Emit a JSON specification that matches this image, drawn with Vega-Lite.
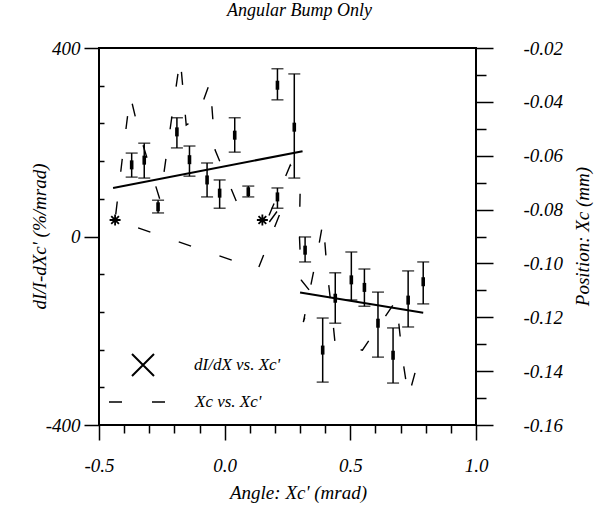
{
  "$schema": "https://vega.github.io/schema/vega-lite/v6.json",
  "width": 377,
  "height": 377,
  "autosize": "none",
  "padding": {"left": 99, "top": 48, "right": 125, "bottom": 91},
  "title": {"text": "Angular Bump Only", "font": "Liberation Serif", "fontStyle": "italic", "fontWeight": "normal", "fontSize": 18, "color": "black", "offset": 19, "dx": 12},
  "config": {
    "view": {"stroke": "black", "strokeWidth": 2},
    "axis": {
      "labelFont": "Liberation Serif", "labelFontStyle": "italic", "labelFontSize": 19, "labelColor": "black",
      "titleFont": "Liberation Serif", "titleFontStyle": "italic", "titleFontSize": 19, "titleFontWeight": "normal", "titleColor": "black",
      "tickColor": "black", "tickWidth": 1.5, "domain": false, "grid": false
    },
    "legend": {
      "labelFont": "Liberation Serif", "labelFontStyle": "italic", "labelFontSize": 17, "labelColor": "black", "padding": 0
    }
  },
  "datasets": {
    "bars": [
      {"x": -0.37, "y": 152, "lo": 126, "hi": 177, "series": "dI/dX vs. Xc'"},
      {"x": -0.32, "y": 162, "lo": 124, "hi": 198, "series": "dI/dX vs. Xc'"},
      {"x": -0.265, "y": 63, "lo": 50, "hi": 77, "series": "dI/dX vs. Xc'"},
      {"x": -0.19, "y": 222, "lo": 188, "hi": 252, "series": "dI/dX vs. Xc'"},
      {"x": -0.14, "y": 163, "lo": 128, "hi": 192, "series": "dI/dX vs. Xc'"},
      {"x": -0.07, "y": 120, "lo": 84, "hi": 156, "series": "dI/dX vs. Xc'"},
      {"x": -0.02, "y": 92, "lo": 60, "hi": 120, "series": "dI/dX vs. Xc'"},
      {"x": 0.04, "y": 215, "lo": 179, "hi": 252, "series": "dI/dX vs. Xc'"},
      {"x": 0.094, "y": 95, "lo": 84, "hi": 107, "series": "dI/dX vs. Xc'"},
      {"x": 0.21, "y": 84, "lo": 60, "hi": 103, "series": "dI/dX vs. Xc'"},
      {"x": 0.21, "y": 321, "lo": 290, "hi": 356, "series": "dI/dX vs. Xc'"},
      {"x": 0.277, "y": 232, "lo": 124, "hi": 345, "series": "dI/dX vs. Xc'"},
      {"x": 0.32, "y": -29, "lo": -54, "hi": -1, "series": "dI/dX vs. Xc'"},
      {"x": 0.39, "y": -241, "lo": -309, "hi": -173, "series": "dI/dX vs. Xc'"},
      {"x": 0.44, "y": -131, "lo": -184, "hi": -77, "series": "dI/dX vs. Xc'"},
      {"x": 0.504, "y": -92, "lo": -135, "hi": -33, "series": "dI/dX vs. Xc'"},
      {"x": 0.556, "y": -108, "lo": -148, "hi": -69, "series": "dI/dX vs. Xc'"},
      {"x": 0.61, "y": -184, "lo": -256, "hi": -118, "series": "dI/dX vs. Xc'"},
      {"x": 0.67, "y": -252, "lo": -311, "hi": -194, "series": "dI/dX vs. Xc'"},
      {"x": 0.73, "y": -135, "lo": -192, "hi": -73, "series": "dI/dX vs. Xc'"},
      {"x": 0.79, "y": -96, "lo": -143, "hi": -54, "series": "dI/dX vs. Xc'"}
    ],
    "stars": [
      {"x": -0.436, "y": 35},
      {"x": 0.15, "y": 35}
    ],
    "fits": [
      {"fit": "a", "x": -0.444, "y": 103},
      {"fit": "a", "x": 0.31, "y": 181},
      {"fit": "b", "x": 0.30, "y": -119},
      {"fit": "b", "x": 0.79, "y": -162}
    ],
    "xc": [
      {"seq": 1, "x": 0.046, "xc": -0.0768},
      {"seq": 2, "x": -0.038, "xc": -0.0579},
      {"seq": 3, "x": -0.058, "xc": -0.0326},
      {"seq": 4, "x": -0.110, "xc": -0.0460},
      {"seq": 5, "x": -0.153, "xc": -0.0486},
      {"seq": 6, "x": -0.177, "xc": -0.0237},
      {"seq": 7, "x": -0.257, "xc": -0.0765},
      {"seq": 8, "x": -0.341, "xc": -0.0512},
      {"seq": 9, "x": -0.376, "xc": -0.0375},
      {"seq": 10, "x": -0.408, "xc": -0.0616},
      {"seq": 11, "x": -0.436, "xc": -0.0839},
      {"seq": 12, "x": 0.133, "xc": -0.1021},
      {"seq": 13, "x": 0.241, "xc": -0.0765},
      {"seq": 14, "x": 0.149, "xc": -0.0883},
      {"seq": 15, "x": 0.261, "xc": -0.0635},
      {"seq": 16, "x": 0.301, "xc": -0.0698},
      {"seq": 17, "x": 0.297, "xc": -0.0887},
      {"seq": 18, "x": 0.305, "xc": -0.1062},
      {"seq": 19, "x": 0.349, "xc": -0.1114},
      {"seq": 20, "x": 0.313, "xc": -0.1218},
      {"seq": 21, "x": 0.369, "xc": -0.0961},
      {"seq": 22, "x": 0.392, "xc": -0.0843},
      {"seq": 23, "x": 0.408, "xc": -0.1032},
      {"seq": 24, "x": 0.428, "xc": -0.1192},
      {"seq": 25, "x": 0.440, "xc": -0.1303},
      {"seq": 26, "x": 0.548, "xc": -0.1322},
      {"seq": 27, "x": 0.683, "xc": -0.1136},
      {"seq": 28, "x": 0.707, "xc": -0.1348},
      {"seq": 29, "x": 0.731, "xc": -0.1496},
      {"seq": 30, "x": 0.779, "xc": -0.1333}
    ]
  },
  "layer": [
    {
      "layer": [
        {
          "data": {"name": "bars"},
          "mark": {"type": "rule", "color": "black", "strokeWidth": 1.5},
          "encoding": {
            "x": {"field": "x", "type": "quantitative", "scale": {"domain": [-0.5, 1.0], "nice": false, "zero": false},
              "axis": {
                "orient": "bottom",
                "values": [-0.5, 0, 0.5, 1.0],
                "labelExpr": "(datum.value < -0.001 ? '-' : '') + format(abs(datum.value), '.1f')",
                "labelFlush": false,
                "tickSize": 15,
                "labelPadding": 16,
                "title": "Angle: Xc' (mrad)",
                "titleX": 199, "titleY": 67, "titleBaseline": "middle"
              }},
            "y": {"field": "lo", "type": "quantitative", "scale": {"domain": [-400, 400], "nice": false},
              "axis": {
                "orient": "left",
                "values": [-400, 0, 400],
                "labelExpr": "(datum.value < 0 ? '-' : '') + format(abs(datum.value), 'd')",
                "tickSize": 15,
                "labelPadding": 4,
                "title": "dI/I-dXc' (%/mrad)",
                "titleX": -60, "titleY": 188, "titleBaseline": "middle"
              }},
            "y2": {"field": "hi"}
          }
        },
        {
          "data": {"name": "bars"},
          "mark": {"type": "tick", "orient": "horizontal", "size": 12, "thickness": 1.5, "color": "black"},
          "encoding": {
            "x": {"field": "x", "type": "quantitative"},
            "y": {"field": "lo", "type": "quantitative", "scale": {"domain": [-400, 400], "nice": false}}
          }
        },
        {
          "data": {"name": "bars"},
          "mark": {"type": "tick", "orient": "horizontal", "size": 12, "thickness": 1.5, "color": "black"},
          "encoding": {
            "x": {"field": "x", "type": "quantitative"},
            "y": {"field": "hi", "type": "quantitative", "scale": {"domain": [-400, 400], "nice": false}}
          }
        },
        {
          "data": {"name": "bars"},
          "mark": {"type": "point", "filled": false, "strokeWidth": 3.6, "size": 81, "opacity": 1, "shape": "M0,-1L0,1"},
          "encoding": {
            "x": {"field": "x", "type": "quantitative"},
            "y": {"field": "y", "type": "quantitative", "scale": {"domain": [-400, 400], "nice": false}},
            "color": {"field": "series", "type": "nominal",
              "scale": {"domain": ["dI/dX vs. Xc'"], "range": ["black"]},
              "legend": {
                "title": null, "orient": "none", "legendX": 32, "legendY": 305,
                "symbolType": "M-1,-1L1,1M-1,1L1,-1", "symbolSize": 484, "symbolStrokeWidth": 2,
                "symbolStrokeColor": "black", "symbolFillColor": "transparent", "symbolOpacity": 1,
                "labelOffset": 39
              }}
          }
        },
        {
          "data": {"name": "fits"},
          "mark": {"type": "line", "color": "black", "strokeWidth": 2},
          "encoding": {
            "x": {"field": "x", "type": "quantitative"},
            "y": {"field": "y", "type": "quantitative", "scale": {"domain": [-400, 400], "nice": false}},
            "detail": {"field": "fit"}
          }
        }
      ]
    },
    {
      "data": {"name": "stars"},
      "mark": {"type": "point", "filled": false, "color": "black", "strokeWidth": 1.8, "size": 121, "shape": "M-1,0L1,0M0,-1L0,1M-0.7,-0.7L0.7,0.7M-0.7,0.7L0.7,-0.7", "opacity": 1},
      "encoding": {
        "x": {"field": "x", "type": "quantitative",
          "axis": {
            "orient": "bottom",
            "values": [-0.4, -0.3, -0.2, -0.1, 0.1, 0.2, 0.3, 0.4, 0.6, 0.7, 0.8, 0.9],
            "labels": false, "tickSize": 8, "title": null
          }},
        "y": {"field": "y", "type": "quantitative", "scale": {"domain": [-400, 400], "nice": false},
          "axis": {
            "orient": "right", "offset": -377,
            "values": [-320, -240, -160, -80, 80, 160, 240, 320],
            "labels": false, "tickSize": 5, "title": null
          }}
      }
    },
    {
      "data": {"name": "xc"},
      "mark": {"type": "line", "color": "black", "strokeWidth": 1.4},
      "encoding": {
        "x": {"field": "x", "type": "quantitative", "axis": null},
        "y": {"field": "xc", "type": "quantitative", "scale": {"domain": [-0.16, -0.02], "nice": false, "zero": false},
          "axis": {
            "orient": "right",
            "values": [-0.16, -0.15, -0.14, -0.13, -0.12, -0.11, -0.1, -0.09, -0.08, -0.07, -0.06, -0.05, -0.04, -0.03, -0.02],
            "labelExpr": "round(abs(datum.value) * 100) % 2 == 0 ? '-' + format(abs(datum.value), '.2f') : ''",
            "tickSize": {"condition": {"test": "round(abs(datum.value) * 100) % 2 == 0", "value": 17}, "value": 10},
            "labelPadding": 30,
            "title": "Position: Xc (mm)",
            "titleX": 106, "titleY": 188, "titleAngle": 270, "titleBaseline": "middle"
          }},
        "strokeDash": {"datum": "Xc vs. Xc'", "type": "nominal",
          "scale": {"domain": ["Xc vs. Xc'"], "range": [[13, 30]]},
          "legend": {
            "title": null, "orient": "none", "legendX": 9, "legendY": 324,
            "symbolSize": 3364, "symbolStrokeWidth": 1.5, "symbolStrokeColor": "black",
            "labelOffset": 27
          }},
        "order": {"field": "seq", "type": "quantitative"}
      }
    }
  ],
  "resolve": {"scale": {"y": "independent"}, "axis": {"y": "independent", "x": "independent"}}
}
